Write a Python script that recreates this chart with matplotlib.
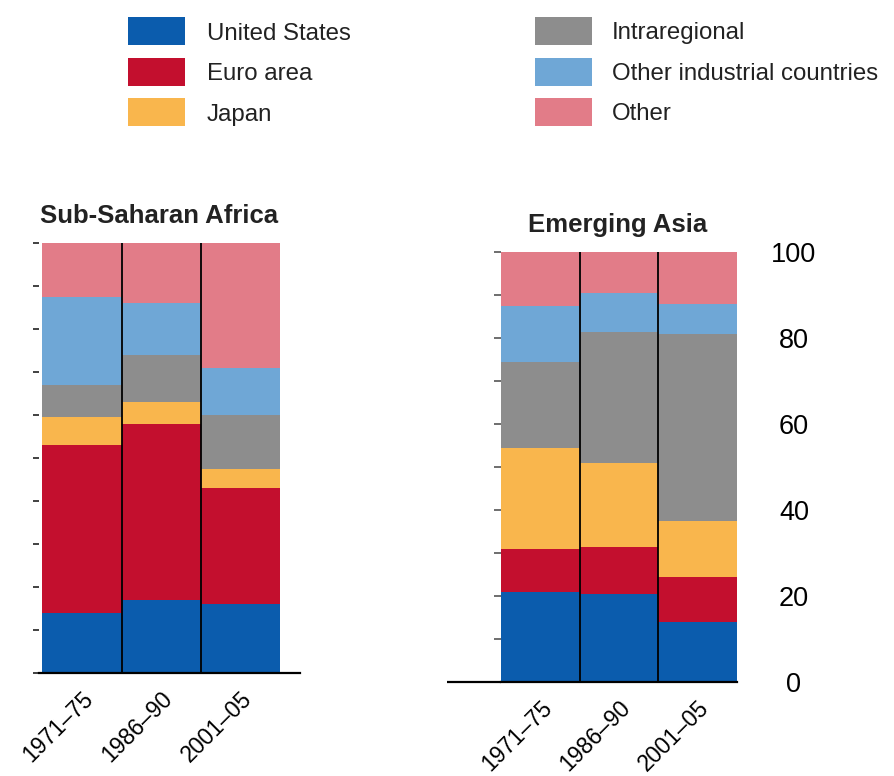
import matplotlib
matplotlib.use("Agg")
import matplotlib.pyplot as plt
from matplotlib.patches import Rectangle

plt.rcParams['font.family'] = ['Liberation Sans', 'DejaVu Sans']

# data (percent shares of exports by destination)
periods = ['1971\u201375', '1986\u201390', '2001\u201305']
series = ['United States', 'Euro area', 'Japan', 'Intraregional',
          'Other industrial countries', 'Other']
colors = ['#0b5cad', '#c30f2e', '#f9b64d', '#8d8d8d', '#6fa7d6', '#e27c88']

ssa_us = [14, 17, 16]
ssa_euro = [39, 41, 27]
ssa_japan = [6.5, 5, 4.5]
ssa_intra = [7.5, 11, 12.5]
ssa_oth_ind = [20.5, 12, 11]
ssa_other = [12.5, 14, 29]

asia_us = [21, 20.5, 14]
asia_euro = [10, 11, 10.5]
asia_japan = [23.5, 19.5, 13]
asia_intra = [20, 30.5, 43.5]
asia_oth_ind = [13, 9, 7]
asia_other = [12.5, 9.5, 12]

y_ticks = list(range(0, 101, 10))
y_labels = ['0', '', '20', '', '40', '', '60', '', '80', '', '100']

W, H = 895, 776
fig = plt.figure(figsize=(W / 100, H / 100), dpi=100)


def px_box(x0, x1, ytop, ybot):
    return [x0 / W, 1 - ybot / H, (x1 - x0) / W, (ybot - ytop) / H]


def stacked(ax, parts):
    x = list(range(len(periods)))
    bottom = [0] * len(periods)
    for vals, c in zip(parts, colors):
        ax.bar(x, vals, width=1.0, bottom=bottom, color=c, linewidth=0, zorder=1)
        bottom = [b + v for b, v in zip(bottom, vals)]
    ax.vlines([0.5, 1.5], 0, 100, color='black', lw=1.3, zorder=3)
    ax.set_ylim(0, 100)
    ax.set_xticks(x)
    ax.set_xticklabels(periods, rotation=45, ha='right', va='top',
                       rotation_mode='anchor', fontsize=16.5)
    ax.tick_params(axis='x', length=0, pad=10)
    for s in ['top', 'right', 'left']:
        ax.spines[s].set_visible(False)
    ax.spines['bottom'].set_linewidth(1.6)
    ax.spines['bottom'].set_zorder(4)
    ax.set_yticks(y_ticks)


# Sub-Saharan Africa
ax1 = fig.add_axes(px_box(39, 300, 243, 673))
stacked(ax1, [ssa_us, ssa_euro, ssa_japan, ssa_intra, ssa_oth_ind, ssa_other])
ax1.set_xlim(-0.54, 2.75)
ax1.set_yticklabels([])
ax1.tick_params(axis='y', direction='out', length=4, width=1.3, color='#333333')

# Emerging Asia
ax2 = fig.add_axes(px_box(501, 737, 252, 682))
stacked(ax2, [asia_us, asia_euro, asia_japan, asia_intra, asia_oth_ind, asia_other])
ax2.set_xlim(-0.5, 2.5)
ax2.set_yticklabels(y_labels, fontsize=19.5)
ax2.tick_params(axis='y', left=True, right=False, labelleft=False, labelright=True,
                direction='out', length=5, width=1.2, color='#555555', pad=36)
for lab in ax2.get_yticklabels():
    lab.set_horizontalalignment('center')
ax2.plot([-54 / 236, 0], [0, 0], transform=ax2.transAxes, color='black',
         lw=1.6, clip_on=False, solid_capstyle='butt')

# panel titles
fig.text(159 / W, 1 - 223 / H, 'Sub-Saharan Africa', ha='center', va='baseline',
         fontsize=18.5, fontweight='bold', color='#222222')
fig.text(618 / W, 1 - 232 / H, 'Emerging Asia', ha='center', va='baseline',
         fontsize=18.5, fontweight='bold', color='#222222')

# legend swatches
for i, (name, c) in enumerate(zip(series, colors)):
    col, row = divmod(i, 3)
    x0 = [128, 535][col]
    tx = [207, 612][col]
    ytop = [17, 57.5, 98][row]
    fig.add_artist(Rectangle((x0 / W, 1 - (ytop + 28) / H), 57 / W, 28 / H,
                             transform=fig.transFigure, color=c, lw=0))
    fig.text(tx / W, 1 - (ytop + 22.5) / H, name, ha='left', va='baseline',
             fontsize=17.3, color='#222222')

fig.savefig('out.png', dpi=100)
